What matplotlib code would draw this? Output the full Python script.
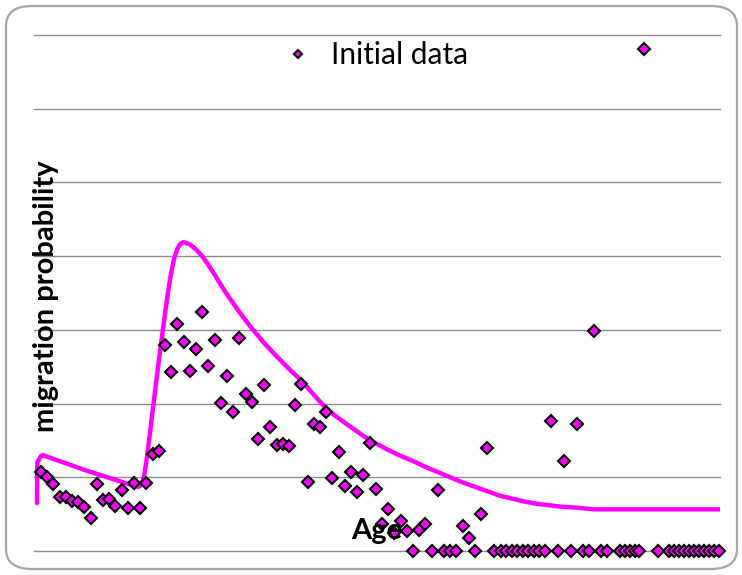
import matplotlib
matplotlib.use("Agg")
import matplotlib.pyplot as plt
from matplotlib.patches import FancyBboxPatch

##### data (probability in %, one grid step = 1%)
ages = [0, 1, 2, 3, 4, 5, 6, 7, 8, 9, 10, 11, 12, 13, 14, 15, 16, 17, 18, 19,
        20, 21, 22, 23, 24, 25, 26, 27, 28, 29, 30, 31, 32, 33, 34, 35, 36, 37, 38, 39,
        40, 41, 42, 43, 44, 45, 46, 47, 48, 49, 50, 51, 52, 53, 54, 55, 56, 57, 58, 59,
        60, 61, 62, 63, 64, 65, 66, 67, 68, 69, 70, 71, 72, 73,
        74.2, 75.0, 76.0, 76.8, 77.7, 78.5, 79.5, 80.3, 81.3, 82.3, 83.4, 84.4, 85.5,
        86.5, 87.4, 88.4, 89.2, 90.3, 91.3, 93.4, 94.2, 95.0, 95.8, 96.5, 97.3, 99.5,
        101.3, 102.1, 102.9, 103.7, 104.5, 105.3, 106.1, 106.9, 107.7, 108.5, 109.4]
initial = [1.07, 1.00, 0.91, 0.73, 0.73, 0.68, 0.66, 0.60, 0.45, 0.91,
           0.69, 0.71, 0.61, 0.83, 0.58, 0.92, 0.58, 0.92, 1.32, 1.36,
           2.80, 2.43, 3.08, 2.84, 2.44, 2.74, 3.24, 2.51, 2.86, 2.01,
           2.37, 1.89, 2.89, 2.13, 2.02, 1.52, 2.25, 1.68, 1.44, 1.45,
           1.42, 1.98, 2.27, 0.94, 1.72, 1.68, 1.89, 0.99, 1.34, 0.88,
           1.07, 0.80, 1.03, 1.47, 0.84, 0.37, 0.57, 0.24, 0.41, 0.27,
           0, 0.28, 0.37, 0, 0.83, 0, 0, 0, 0.34, 0.18, 0, 0.50, 1.40, 0,
           0, 0, 0, 0, 0, 0, 0, 0, 0, 1.76, 0, 1.22, 0,
           1.72, 0, 0, 2.99, 0, 0, 0, 0, 0, 0, 0, 6.81, 0,
           0, 0, 0, 0, 0, 0, 0, 0, 0, 0, 0]

# fitted model curve
model_age = [-0.65, -0.6, 0.0, 0.3, 7, 14.4, 15, 15.7, 16.2, 16.6, 17, 17.5, 18, 19,
             20, 20.5, 21, 21.5, 22, 22.5, 23, 24, 25, 26, 27, 28, 29, 30, 32, 34,
             36, 38, 40, 42, 44, 46, 48, 50, 52, 54, 56, 58, 60, 62, 64, 66, 68,
             70, 72, 74, 76, 78, 80, 82, 84, 86, 88, 89.2, 109.6]
model = [0.65, 1.20, 1.29, 1.30, 1.10, 0.90, 0.88, 0.87, 0.90, 1.00, 1.22, 1.55, 1.90,
         2.58, 3.22, 3.52, 3.78, 3.98, 4.10, 4.17, 4.19, 4.16, 4.09, 4.00, 3.88, 3.75,
         3.61, 3.48, 3.24, 3.02, 2.82, 2.64, 2.47, 2.31, 2.12, 1.93, 1.80, 1.68, 1.56,
         1.46, 1.37, 1.29, 1.22, 1.14, 1.07, 1.00, 0.93, 0.87, 0.81, 0.75, 0.71, 0.67,
         0.64, 0.62, 0.60, 0.59, 0.575, 0.565, 0.565]

magenta = "#FF00FF"

fig = plt.figure(figsize=(7.42, 5.75), dpi=100)

# rounded grey frame of the chart area
frame = FancyBboxPatch((6 / 742, 6 / 575), 731 / 742, 563 / 575,
                       boxstyle="round,pad=0,rounding_size=0.035",
                       transform=fig.transFigure, fill=False,
                       edgecolor="#a6a6a6", linewidth=1.6)
fig.patches.append(frame)

ax = fig.add_axes([34 / 742, 1 - 551 / 575, 686 / 742, 516 / 575])
ax.set_xlim(-1.13, 109.5)
ax.set_ylim(0, 7)

ax.plot(model_age, model, color=magenta, lw=3.2, solid_joinstyle="round",
        solid_capstyle="round", zorder=2)
ax.plot(ages, initial, linestyle="none", marker="D", markersize=6.2,
        markerfacecolor=magenta, markeredgecolor="black", markeredgewidth=1.5,
        label="Initial data", clip_on=False, zorder=3)

ax.set_yticks(range(8))
ax.set_xticks([])
ax.grid(axis="y", color="#8c8c8c", linewidth=1.0)
for gl in ax.get_ygridlines():
    gl.set_clip_on(False)
ax.set_axisbelow(True)
ax.tick_params(left=False, labelleft=False, bottom=False, labelbottom=False)
for s in ax.spines.values():
    s.set_visible(False)

leg = ax.legend(loc="center left", bbox_to_anchor=(283 / 742, 1 - 55 / 575),
                bbox_transform=fig.transFigure, frameon=False, markerscale=0.7,
                handlelength=1.0, handletextpad=0.6, borderpad=0, borderaxespad=0,
                prop={"family": "Lato", "size": 21.5})

fig.text(46 / 742, 1 - 296 / 575, "migration probability", rotation=90,
         ha="center", va="center", family="Lato", weight="bold", fontsize=21)
ax.text(377 / 742, 1 - 531 / 575, "Age", transform=fig.transFigure,
        ha="center", va="center", family="Lato", weight="bold", fontsize=21,
        zorder=5)

fig.savefig("out.png", dpi=100)
